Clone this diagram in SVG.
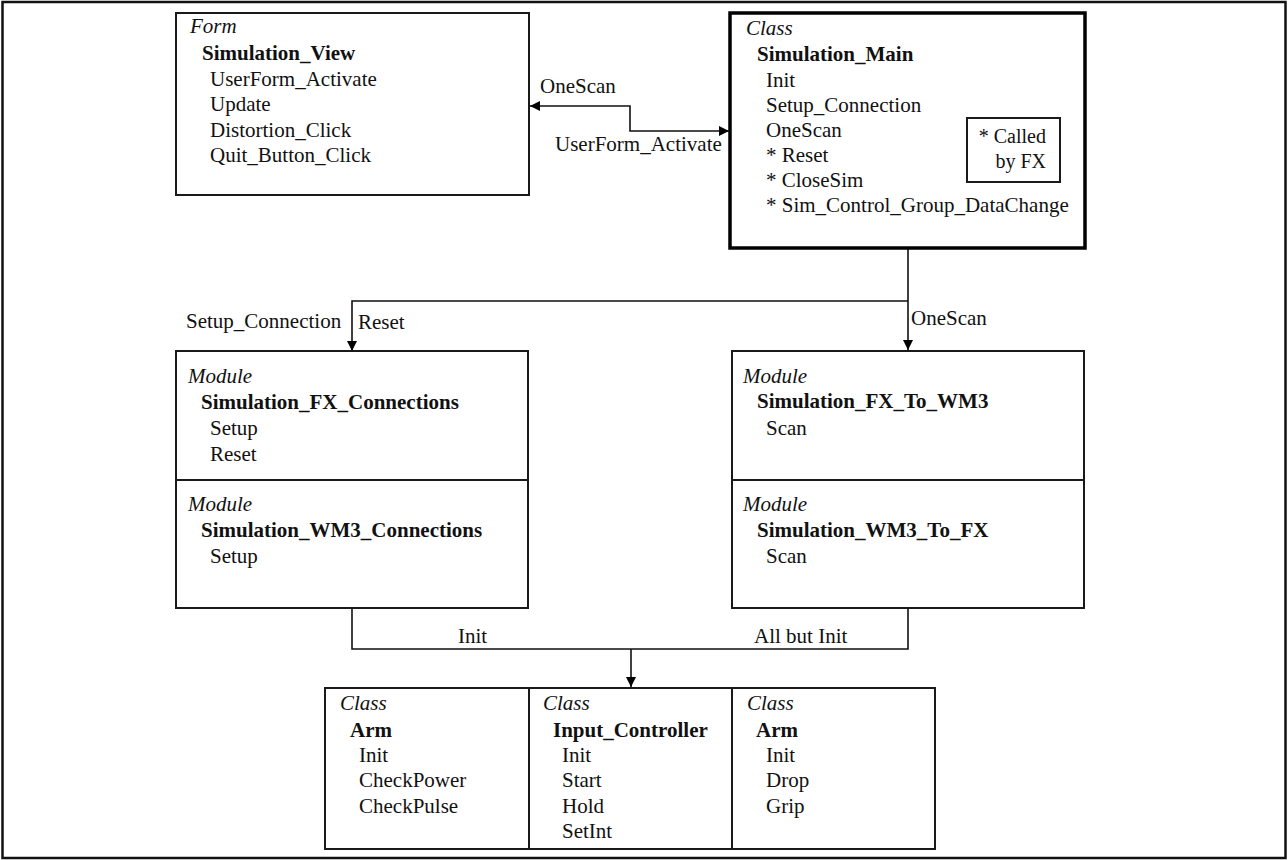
<svg xmlns="http://www.w3.org/2000/svg" width="1288" height="860" viewBox="0 0 1288 860">
  <defs>
    <style>
      text { font-family: "Liberation Serif", "Times New Roman", Tinos, "DejaVu Serif", serif; font-size: 21px; fill: #111; }
      .kind { font-style: italic; }
      .name { font-weight: bold; }
      .note { font-size: 20px; }
      .box { fill: #fff; stroke: #1a1a1a; stroke-width: 2; }
      .main { fill: #fff; stroke: #000; stroke-width: 3.5; }
      .div { stroke: #1a1a1a; stroke-width: 2; }
      .wire { fill: none; stroke: #111; stroke-width: 1.6; }
    </style>
    <marker id="arrow" viewBox="0 0 10 10" refX="10" refY="5" markerWidth="11" markerHeight="10" markerUnits="userSpaceOnUse" orient="auto-start-reverse">
      <path d="M0,0 L10,5 L0,10 Z" fill="#000"/>
    </marker>
  </defs>

  <rect width="1288" height="860" fill="#fff"/>
  <rect x="2.5" y="2" width="1283" height="856" fill="none" stroke="#111" stroke-width="2.5"/>

  <!-- connectors -->
  <g id="connectors">
    <path class="wire" d="M729,131 H630 V106 H530" marker-start="url(#arrow)" marker-end="url(#arrow)"/>
    <path class="wire" d="M908,249 V350" marker-end="url(#arrow)"/>
    <path class="wire" d="M908,301 H352 V351" marker-end="url(#arrow)"/>
    <path class="wire" d="M352,608 V649 H908 V608"/>
    <path class="wire" d="M631,649 V687" marker-end="url(#arrow)"/>
    <text x="540" y="93">OneScan</text>
    <text x="555" y="151">UserForm_Activate</text>
    <text x="186" y="328">Setup_Connection</text>
    <text x="358" y="329">Reset</text>
    <text x="911" y="325">OneScan</text>
    <text x="458" y="643">Init</text>
    <text x="754" y="643">All but Init</text>
  </g>

  <!-- Form: Simulation_View -->
  <g id="simulation-view">
    <rect class="box" x="176" y="13" width="353" height="182"/>
    <text class="kind" x="190" y="33">Form</text>
    <text class="name" x="202" y="60">Simulation_View</text>
    <text x="210" y="86">UserForm_Activate</text>
    <text x="210" y="111">Update</text>
    <text x="210" y="137">Distortion_Click</text>
    <text x="210" y="162">Quit_Button_Click</text>
  </g>

  <!-- Class: Simulation_Main -->
  <g id="simulation-main">
    <rect class="main" x="730" y="13" width="355" height="235"/>
    <text class="kind" x="746" y="35">Class</text>
    <text class="name" x="757" y="61">Simulation_Main</text>
    <text x="766" y="87">Init</text>
    <text x="766" y="112">Setup_Connection</text>
    <text x="766" y="137">OneScan</text>
    <text x="766" y="162">* Reset</text>
    <text x="766" y="187">* CloseSim</text>
    <text x="766" y="212">* Sim_Control_Group_DataChange</text>
    <rect class="box" x="967" y="118" width="93" height="64" stroke-width="1.6"/>
    <text class="note" x="1046" y="143" text-anchor="end">* Called</text>
    <text class="note" x="1046" y="168" text-anchor="end">by FX</text>
  </g>

  <!-- Modules: FX / WM3 connections -->
  <g id="connections-modules">
    <rect class="box" x="176" y="351" width="352" height="257"/>
    <line class="div" x1="176" y1="480" x2="528" y2="480"/>
    <text class="kind" x="188" y="383">Module</text>
    <text class="name" x="201" y="409">Simulation_FX_Connections</text>
    <text x="210" y="435">Setup</text>
    <text x="210" y="461">Reset</text>
    <text class="kind" x="188" y="511">Module</text>
    <text class="name" x="201" y="537">Simulation_WM3_Connections</text>
    <text x="210" y="563">Setup</text>
  </g>

  <!-- Modules: FX / WM3 transfer -->
  <g id="transfer-modules">
    <rect class="box" x="732" y="351" width="352" height="257"/>
    <line class="div" x1="732" y1="480" x2="1084" y2="480"/>
    <text class="kind" x="743" y="383">Module</text>
    <text class="name" x="757" y="408">Simulation_FX_To_WM3</text>
    <text x="766" y="435">Scan</text>
    <text class="kind" x="743" y="511">Module</text>
    <text class="name" x="757" y="537">Simulation_WM3_To_FX</text>
    <text x="766" y="563">Scan</text>
  </g>

  <!-- Classes: Arm / Input_Controller / Arm -->
  <g id="device-classes">
    <rect class="box" x="325" y="688" width="610" height="161"/>
    <line class="div" x1="529" y1="688" x2="529" y2="849"/>
    <line class="div" x1="732" y1="688" x2="732" y2="849"/>
    <text class="kind" x="340" y="710">Class</text>
    <text class="name" x="350" y="737">Arm</text>
    <text x="359" y="762">Init</text>
    <text x="359" y="787">CheckPower</text>
    <text x="359" y="813">CheckPulse</text>
    <text class="kind" x="543" y="710">Class</text>
    <text class="name" x="553" y="737">Input_Controller</text>
    <text x="562" y="762">Init</text>
    <text x="562" y="787">Start</text>
    <text x="562" y="813">Hold</text>
    <text x="562" y="838">SetInt</text>
    <text class="kind" x="747" y="710">Class</text>
    <text class="name" x="756" y="737">Arm</text>
    <text x="766" y="762">Init</text>
    <text x="766" y="787">Drop</text>
    <text x="766" y="813">Grip</text>
  </g>
</svg>
